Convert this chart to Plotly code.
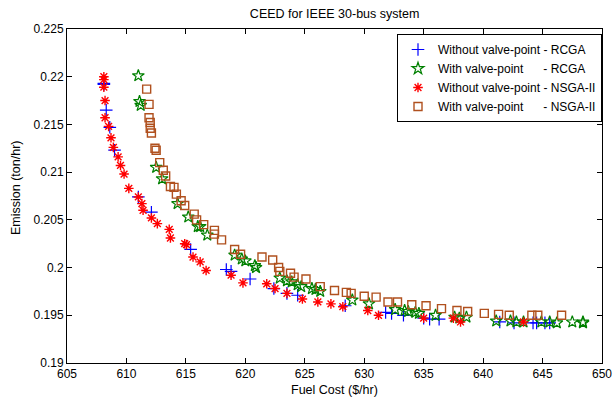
import plotly.graph_objects as go

# Without valve-point - RCGA
rcga_wo_x = [608.1, 608.1, 608.3, 608.6, 609.0, 611.0, 612.1, 615.4, 618.4, 618.8,
             620.4, 622.4, 623.5, 624.4, 628.4, 631.8, 632.3, 633.3, 635.0, 635.5,
             636.3, 641.4, 642.6, 644.2, 644.5, 645.2, 645.6]
rcga_wo_y = [0.2193, 0.2192, 0.2165, 0.2147, 0.2123, 0.2074, 0.2058, 0.2019, 0.1998, 0.1996,
             0.1988, 0.1978, 0.1973, 0.1971, 0.1960, 0.1953, 0.1952, 0.1950, 0.1947, 0.1946,
             0.1946, 0.1943, 0.1942, 0.1942, 0.1942, 0.1942, 0.1942]

# With valve-point - RCGA
rcga_w_x = [611.0, 611.1, 611.2, 612.5, 613.0, 614.3, 615.2, 616.0, 616.2, 616.8,
            619.1, 619.7, 620.0, 620.8, 620.9, 622.9, 623.5, 623.9, 624.4, 624.7,
            625.6, 625.9, 626.3, 629.0, 630.4, 632.6, 633.4, 633.7, 634.3, 634.6,
            636.0, 637.6, 638.0, 638.6, 641.1, 642.3, 642.8, 643.4, 644.9, 645.6,
            646.2, 647.5, 648.4, 648.4]
rcga_w_y = [0.2201, 0.2174, 0.2170, 0.2105, 0.2093, 0.2067, 0.2053, 0.2043, 0.2043, 0.2034,
            0.2013, 0.2009, 0.2007, 0.2002, 0.2000, 0.1989, 0.1986, 0.1985, 0.1982, 0.1980,
            0.1978, 0.1977, 0.1975, 0.1966, 0.1962, 0.1956, 0.1955, 0.1954, 0.1953, 0.1952,
            0.1950, 0.1948, 0.1947, 0.1948, 0.1944, 0.1944, 0.1943, 0.1943, 0.1943, 0.1943,
            0.1942, 0.1943, 0.1942, 0.1943]

# Without valve-point - NSGA-II
nsga_wo_x = [608.1, 608.1, 608.1, 608.2, 608.2, 608.5, 608.7, 608.9, 609.3, 609.5,
             609.8, 610.2, 611.0, 611.3, 611.4, 612.1, 612.6, 613.6, 613.7, 614.9,
             615.05, 615.6, 616.2, 616.7, 618.8, 619.8, 621.8, 622.5, 623.5, 624.8,
             626.1, 627.2, 628.2, 630.3, 631.2, 635.0, 637.5, 638.1, 643.4]
nsga_wo_y = [0.2200, 0.2197, 0.2189, 0.2175, 0.2157, 0.2148, 0.2136, 0.2126, 0.2116, 0.2107,
             0.2098, 0.2083, 0.2074, 0.2067, 0.2060, 0.2052, 0.2046, 0.2040, 0.2031, 0.2025,
             0.2024, 0.2011, 0.2006, 0.1997, 0.1992, 0.1984, 0.1983, 0.1978, 0.1973, 0.1967,
             0.1964, 0.1962, 0.1959, 0.1955, 0.1950, 0.1947, 0.1947, 0.1943, 0.1943]

# With valve-point - NSGA-II
nsga_w_x = [611.7, 611.9, 611.9, 612.0, 612.0, 612.1, 612.4, 612.5, 612.8, 613.1,
            613.3, 613.7, 614.0, 614.2, 614.6, 614.9, 615.7, 615.9, 616.5, 617.4,
            617.4, 618.0, 619.1, 619.6, 621.4, 622.3, 622.8, 622.9, 623.8, 624.1,
            625.1, 626.3, 627.5, 628.5, 628.9, 630.0, 631.0, 632.0, 632.8, 634.0,
            635.2, 636.5, 637.8, 638.7, 640.1, 641.3, 642.2, 644.1, 644.6, 646.6]
nsga_w_y = [0.2187, 0.2171, 0.2157, 0.2152, 0.2146, 0.2141, 0.2125, 0.2123, 0.2110, 0.2102,
            0.2096, 0.2085, 0.2084, 0.2077, 0.2070, 0.2065, 0.2056, 0.2050, 0.2045, 0.2039,
            0.2035, 0.2029, 0.2019, 0.2014, 0.2011, 0.2008, 0.2000, 0.1996, 0.1994, 0.1990,
            0.1988, 0.1980, 0.1976, 0.1974, 0.1973, 0.1970, 0.1969, 0.1964, 0.1964, 0.1961,
            0.1960, 0.1957, 0.1955, 0.1954, 0.1952, 0.1951, 0.1950, 0.1950, 0.1950, 0.1950]

x_tickvals = [605, 610, 615, 620, 625, 630, 635, 640, 645, 650]
x_ticktext = ["605", "610", "615", "620", "625", "630", "635", "640", "645", "650"]
y_tickvals = [0.19, 0.195, 0.2, 0.205, 0.21, 0.215, 0.22, 0.225]
y_ticktext = ["0.19", "0.195", "0.2", "0.205", "0.21", "0.215", "0.22", "0.225"]

title_text = "CEED for IEEE 30-bus system"
x_title = "Fuel Cost ($/hr)"
y_title = "Emission (ton/hr)"

NB = "\u00a0"
names = [
    "Without valve-point - RCGA",
    "With valve-point" + NB * 6 + "- RCGA",
    "Without valve-point - NSGA-II",
    "With valve-point" + NB * 6 + "- NSGA-II",
]

fig = go.Figure()
fig.add_trace(go.Scatter(x=rcga_wo_x, y=rcga_wo_y, mode="markers", name=names[0],
                         marker=dict(symbol="cross-thin", size=9, color="#0000FF",
                                     line=dict(color="#0000FF", width=1.2))))
fig.add_trace(go.Scatter(x=rcga_w_x, y=rcga_w_y, mode="markers", name=names[1],
                         marker=dict(symbol="star-open", size=9, color="#008000",
                                     line=dict(color="#008000", width=1.2))))
fig.add_trace(go.Scatter(x=nsga_wo_x, y=nsga_wo_y, mode="markers", name=names[2],
                         marker=dict(symbol="asterisk-open", size=8, color="#FF0000",
                                     line=dict(color="#FF0000", width=1.4))))
fig.add_trace(go.Scatter(x=nsga_w_x, y=nsga_w_y, mode="markers", name=names[3],
                         marker=dict(symbol="square-open", size=8, color="#B0501E",
                                     line=dict(color="#B0501E", width=1.4))))

axis_common = dict(showline=True, linecolor="black", linewidth=1, mirror="ticks",
                   ticks="inside", ticklen=5, tickcolor="black", showgrid=False,
                   zeroline=False, automargin=False,
                   tickfont=dict(size=12, color="black"))

fig.update_layout(
    width=614, height=400,
    margin=dict(l=67, r=12, t=29, b=37),
    paper_bgcolor="white", plot_bgcolor="white",
    font=dict(family="Liberation Sans, Arial, sans-serif", size=12, color="black"),
    title=dict(text=title_text, x=0.545, xanchor="center",
               y=0.965, yanchor="middle", font=dict(size=12.5, color="black"),
               automargin=False),
    xaxis=dict(range=[605, 650], tickvals=x_tickvals, ticktext=x_ticktext, **axis_common),
    yaxis=dict(range=[0.19, 0.225], tickvals=y_tickvals, ticktext=y_ticktext, **axis_common),
    legend=dict(x=1, xanchor="right", y=0.985, yanchor="top", bgcolor="white",
                bordercolor="black", borderwidth=1, font=dict(size=12),
                tracegroupgap=0, itemsizing="trace", itemwidth=30),
    showlegend=True,
    annotations=[
        dict(text=x_title, xref="paper", yref="paper", x=0.5, y=0, xanchor="center",
             yanchor="middle", yshift=-27, showarrow=False, font=dict(size=12.5)),
        dict(text=y_title, xref="paper", yref="paper", x=0, y=0.5, xanchor="center",
             yanchor="middle", xshift=-51, yshift=8, textangle=-90, showarrow=False,
             font=dict(size=12.5)),
    ],
)

fig.write_html("out.html", config={"displayModeBar": False},
               post_script="document.body.style.margin='0px';")
